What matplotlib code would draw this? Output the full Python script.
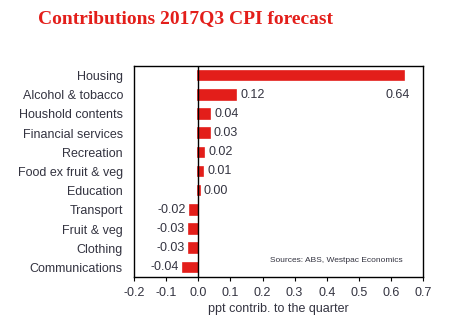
import matplotlib.pyplot as plt
import numpy as np

categories = ['Housing', 'Alcohol & tobacco', 'Houshold contents', 'Financial services',
              'Recreation', 'Food ex fruit & veg', 'Education', 'Transport',
              'Fruit & veg', 'Clothing', 'Communications']
values = [0.642, 0.118, 0.038, 0.035, 0.019, 0.016, 0.005, -0.026, -0.029, -0.029, -0.048]
labels = ['0.64', '0.12', '0.04', '0.03', '0.02', '0.01', '0.00', '-0.02', '-0.03', '-0.03', '-0.04']
xticks = [-0.2, -0.1, 0.0, 0.1, 0.2, 0.3, 0.4, 0.5, 0.6, 0.7]

plt.rcParams['font.family'] = ['Liberation Sans', 'DejaVu Sans']
txt = '#333340'
red = '#e31e1a'
fs = 9

fig = plt.figure(figsize=(4.5, 3.33), dpi=100)
ax = fig.add_axes([0.298, 0.168, 0.642, 0.634])

y = np.arange(len(categories))
ax.barh(y, values, height=0.5, color=red, edgecolor=red, linewidth=1.2, zorder=2)
ax.axvline(0, color='black', lw=1, zorder=3)

for i, (v, lab) in enumerate(zip(values, labels)):
    if i == 0:
        # housing label sits off to the right, one row down
        ax.text(0.62, 1, lab, ha='center', va='center', fontsize=fs, color=txt)
    elif v >= 0:
        ax.text(v + 0.012, i, lab, ha='left', va='center', fontsize=fs, color=txt)
    else:
        ax.text(v - 0.012, i, lab, ha='right', va='center', fontsize=fs, color=txt)

ax.set_ylim(len(categories) - 0.5, -0.5)
ax.set_yticks(y)
ax.set_yticklabels(categories, fontsize=fs, color=txt)
ax.tick_params(axis='y', length=0, pad=8)

ax.set_xlim(-0.2, 0.7)
ax.set_xticks(xticks)
ax.set_xticklabels([f'{t:.1f}' for t in xticks], fontsize=fs, color=txt)
ax.tick_params(axis='x', direction='out', length=3, color='black', pad=4)
ax.set_xlabel('ppt contrib. to the quarter', fontsize=fs, color=txt, labelpad=3)

for s in ax.spines.values():
    s.set_color('black')
    s.set_linewidth(1)

ax.text(0.47, 0.08, 'Sources: ABS, Westpac Economics', transform=ax.transAxes,
        ha='left', va='center', fontsize=6, color=txt)

fig.text(0.085, 0.945, 'Contributions 2017Q3 CPI forecast', fontsize=14,
         fontweight='bold', color=red, family=['Liberation Serif'], ha='left', va='center')

fig.savefig('out.png', dpi=100)
